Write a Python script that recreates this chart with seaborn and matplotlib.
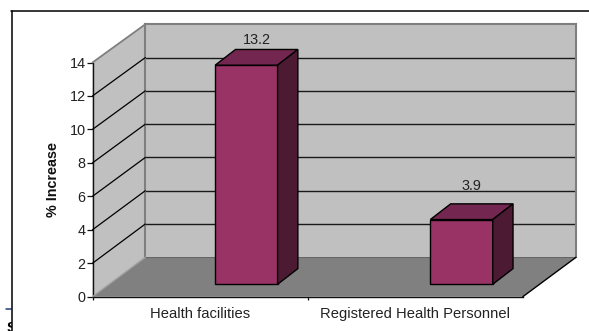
import matplotlib
matplotlib.use("Agg")
import matplotlib.pyplot as plt
from matplotlib.patches import Polygon
from matplotlib.lines import Line2D
from matplotlib.transforms import Affine2D, Bbox, IdentityTransform
import pandas as pd
import seaborn as sns

categories = ["Health facilities", "Registered Health Personnel"]
increase = [13.2, 3.9]
y_ticks = [0, 2, 4, 6, 8, 10, 12, 14]

W, H = 589, 331
DEPTH = (20.3, 15.7)
LABEL_LIFT = [9.3, 17.6]
WALL = "#c0c0c0"
FLOOR = "#808080"
EDGE = "#7f7f7f"
FRONT = "#993366"
TOP = "#732650"
SIDE = "#4d1a33"
INK = "#222222"

sns.set_theme(style="white")
plt.rcParams["font.family"] = ["Liberation Sans", "DejaVu Sans"]

fig = plt.figure(figsize=(W / 100, H / 100), dpi=100, facecolor="white")


def axes_px(left, right, top, bottom):
    return fig.add_axes([left / W, 1 - bottom / H, (right - left) / W, (bottom - top) / H])


# Back wall, front plane and the plane the columns stand on
back = axes_px(145.3, 576, 24.3, 257.3)
front = axes_px(92.5, 522.8, 62.5, 296.7)
plane = axes_px(92.5 + 46.3, 522.8 + 46.3, 284.3 - 14 * 16.6, 284.3)

for a in (back, front, plane):
    a.set_xlim(-0.5, 1.5)
    a.set_ylim(0, 14)

# Back wall with its gridlines
back.set_facecolor(WALL)
back.set_xticks([])
back.set_yticks([])
for name, spine in back.spines.items():
    spine.set_color(EDGE)
    spine.set_linewidth(1.5)
back.spines["bottom"].set_visible(False)
back.hlines(y_ticks[1:-1], -0.5, 1.5, color="#1a1a1a", lw=1.0)


def linked(x, y):
    return front.transData.transform((x, y)), back.transData.transform((x, y))


f0, b0 = linked(-0.5, 0)
f1, b1 = linked(-0.5, 14)
f2, b2 = linked(1.5, 0)

# Side wall and floor joining the two planes
fig.add_artist(Polygon([f0, b0, b1, f1], closed=True, facecolor=WALL, edgecolor="none",
                       transform=IdentityTransform(), zorder=-2))
fig.add_artist(Polygon([f0, b0, b2, f2], closed=True, facecolor=FLOOR, edgecolor="none",
                       transform=IdentityTransform(), zorder=-1))
fig.add_artist(Polygon([b0, b2], closed=False, fill=False, edgecolor="#666666", lw=1.5,
                       transform=IdentityTransform(), zorder=-0.5))
fig.add_artist(Line2D([f0[0], b0[0]], [f0[1], b0[1]], color="#a0a0a0", lw=1.0,
                      transform=IdentityTransform(), zorder=1))
fig.add_artist(Line2D([f1[0], b1[0]], [f1[1], b1[1]], color=EDGE, lw=1.3,
                      transform=IdentityTransform(), zorder=1))
fig.add_artist(Line2D([f2[0], b2[0]], [f2[1], b2[1]], color="black", lw=1.0,
                      transform=IdentityTransform(), zorder=1))
for v in y_ticks[1:-1]:
    p, q = linked(-0.5, v)
    fig.add_artist(Line2D([p[0], q[0]], [p[1], q[1]], color="black", lw=0.9,
                          transform=IdentityTransform(), zorder=1))

# Front plane: value axis and category axis
front.patch.set_alpha(0)
for name in ("top", "right"):
    front.spines[name].set_visible(False)
for name in ("left", "bottom"):
    front.spines[name].set_color("#111111")
    front.spines[name].set_linewidth(1.0)
front.set_yticks(y_ticks)
front.set_xticks([0, 1], categories)
front.set_xticks([-0.5, 0.5], minor=True)
front.tick_params(axis="y", left=True, length=4, width=0.9, color="#111111",
                  labelsize=10.4, labelcolor=INK, pad=1)
front.tick_params(axis="x", which="major", bottom=False, labelsize=10.6,
                  labelcolor=INK, pad=1.5)
front.tick_params(axis="x", which="minor", bottom=True, length=2.5, width=0.9, color="#111111")
front.set_ylabel("% Increase", fontsize=10.4, fontweight="bold", color="#111111", labelpad=7)
front.set_xlabel("")

# Columns
data = pd.DataFrame({"category": categories, "increase": increase})
plane.patch.set_alpha(0)
sns.barplot(data=data, x="category", y="increase", ax=plane, color=FRONT, saturation=1,
            width=0.29, edgecolor="black", linewidth=1.0, zorder=5, clip_on=False)
plane.set_xlim(-0.5, 1.5)
plane.set_ylim(0, 14)
plane.axis("off")

shift = plane.transData + Affine2D().translate(*DEPTH)
for bar, value, lift in zip(plane.patches, increase, LABEL_LIFT):
    bar.set_clip_on(False)
    x0, x1 = bar.get_x(), bar.get_x() + bar.get_width()
    top_face = [(x0, value), (x1, value)]
    a = plane.transData.transform(top_face)
    b = shift.transform(top_face)
    plane.add_patch(Polygon([a[0], a[1], b[1], b[0]], closed=True, facecolor=TOP, edgecolor="black",
                            lw=1.0, transform=IdentityTransform(), zorder=6, clip_on=False))
    c = plane.transData.transform((x1, 0))
    d = shift.transform((x1, 0))
    plane.add_patch(Polygon([a[1], b[1], d, c], closed=True, facecolor=SIDE, edgecolor="black",
                            lw=1.0, transform=IdentityTransform(), zorder=6, clip_on=False))
    plane.annotate(f"{value:.1f}", xy=((a[0][0] + b[1][0]) / 2, b[0][1]), xycoords=IdentityTransform(),
                   xytext=(0, lift * 0.72), textcoords="offset points", ha="center", va="center",
                   fontsize=10.4, color=INK, zorder=4)

# Enclosing frame, open at the right and bottom
fig.add_artist(Line2D([11.5 / W, 11.5 / W], [0, 1 - 11 / H], color="black", lw=1.1, zorder=8))
fig.add_artist(Line2D([11 / W, 1], [1 - 11 / H, 1 - 11 / H], color="black", lw=1.1, zorder=8))

# Fragments of the surrounding page showing left of the frame
fig.add_artist(Line2D([6 / W, 11 / W], [1 - 309 / H, 1 - 309 / H], color="#1f3d7a", lw=1.1))
page_text = fig.text(7 / W, 1 - 332 / H, "S", fontsize=10.5, fontweight="bold", color="black",
                     ha="left", va="baseline")
page_text.set_clip_box(Bbox([[0, 0], [11.5, H]]))
page_text.set_clip_on(True)

fig.savefig("out.png", dpi=100, facecolor="white")
